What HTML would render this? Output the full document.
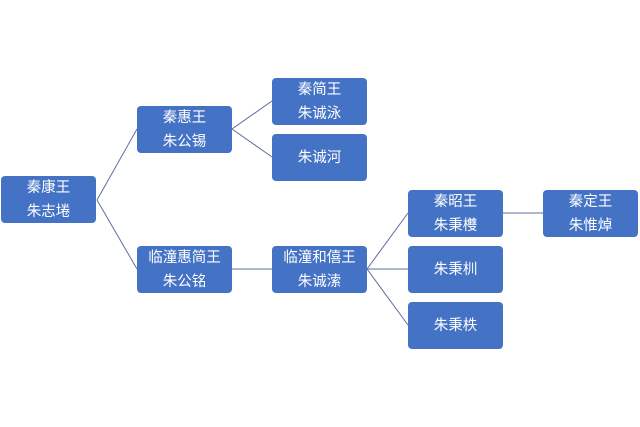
<!DOCTYPE html>
<html><head><meta charset="utf-8"><style>
body{margin:0;width:640px;height:427px;background:#fff;position:relative;overflow:hidden;font-family:"Liberation Sans","Noto Sans CJK SC",sans-serif}
.b{position:absolute;width:95px;height:47px;background:#4472C4;border-radius:4px;color:#fff;font-size:14.5px;line-height:24px;text-align:center;display:flex;flex-direction:column;justify-content:center}
svg{position:absolute;left:0;top:0}
</style></head><body>
<svg width="640" height="427"><g stroke="#5b6f9c" stroke-width="1" fill="none">
<path d="M97 200 L137 129 M97 200 L137 269"/>
<path d="M232 129 L272 101 M232 129 L272 157"/>
<path d="M232 269 L272 269"/>
<path d="M367 269 L408 213 M367 269 L408 269 M367 269 L408 325"/>
<path d="M503 213 L543 213"/>
</g></svg>
<div class="b" style="left:1px;top:176px"><div>秦康王</div><div>朱志埢</div></div>
<div class="b" style="left:137px;top:106px"><div>秦惠王</div><div>朱公锡</div></div>
<div class="b" style="left:137px;top:246px"><div>临潼惠简王</div><div>朱公铭</div></div>
<div class="b" style="left:272px;top:78px"><div>秦简王</div><div>朱诚泳</div></div>
<div class="b" style="left:272px;top:134px"><div>朱诚河</div></div>
<div class="b" style="left:272px;top:246px"><div>临潼和僖王</div><div>朱诚溹</div></div>
<div class="b" style="left:408px;top:190px"><div>秦昭王</div><div>朱秉欆</div></div>
<div class="b" style="left:408px;top:246px"><div>朱秉杊</div></div>
<div class="b" style="left:408px;top:302px"><div>朱秉柣</div></div>
<div class="b" style="left:543px;top:190px"><div>秦定王</div><div>朱惟焯</div></div>
</body></html>
